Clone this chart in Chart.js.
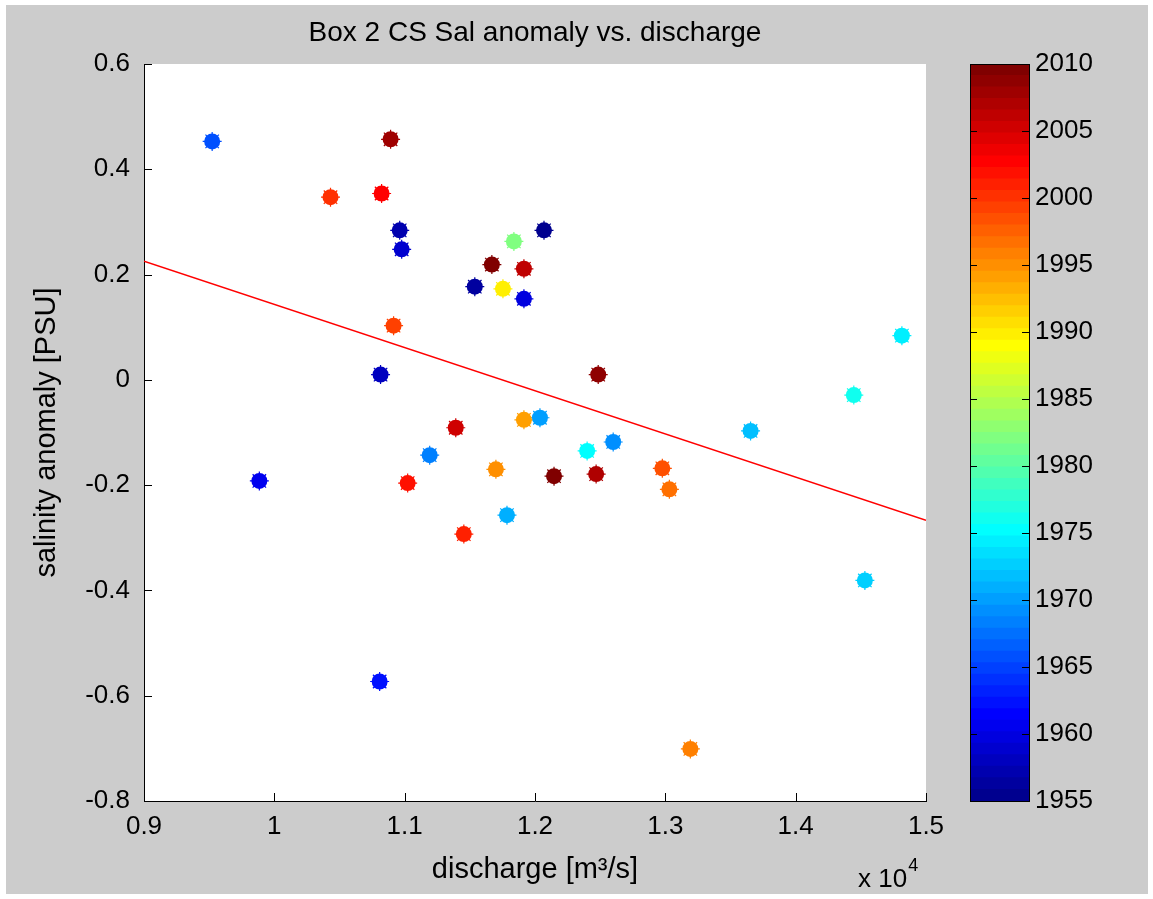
<!DOCTYPE html>
<html>
<head>
<meta charset="utf-8">
<title>Box 2 CS Sal anomaly vs. discharge</title>
<script src="https://cdn.jsdelivr.net/npm/chart.js@4.4.1/dist/chart.umd.min.js"></script>
<style>
  html, body { margin: 0; padding: 0; background: #fff; }
  #fig { position: relative; width: 1153px; height: 899px; overflow: hidden; }
  #frame { position: absolute; left: 6px; top: 5px; right: 5px; bottom: 5px; background: #cccccc; }
  #main { position: absolute; left: 0; top: 0; width: 1153px; height: 899px; }
  #cbar { position: absolute; left: 940px; top: 0; width: 213px; height: 899px; }
</style>
</head>
<body>
<div id="fig">
  <div id="frame"></div>
  <canvas id="main" width="1153" height="899"></canvas>
  <canvas id="cbar" width="213" height="899"></canvas>
</div>
<script>
/* ─── DATA ─── */
// one point per year: river discharge [m3/s] and salinity anomaly [PSU]
const years     = [1955, 1956, 1957, 1958, 1959, 1960, 1961, 1962, 1966, 1968,
                   1969, 1970, 1971, 1972, 1973, 1974, 1975, 1976, 1982, 1990,
                   1994, 1995, 1996, 1997, 1998, 1999, 2000, 2001, 2002, 2003,
                   2005, 2006, 2007, 2008, 2009, 2010, 2010];
const discharge = [12069, 11538, 10962, 10815, 10977, 11915,  9885, 10808,  9523, 11192,
                   12600, 12038, 11785, 13654, 14531, 14815, 12400, 14446, 11838, 11754,
                   11915, 11700, 13192, 13031, 12977, 10915, 10431, 11454, 11023, 10823,
                   11392, 11915, 12469, 10892, 12485, 11669, 12146];
const anomaly   = [ 0.284,  0.177,  0.284,  0.010,  0.248,  0.154, -0.192, -0.573,  0.453, -0.143,
                   -0.118, -0.072, -0.257, -0.097, -0.381,  0.084, -0.135, -0.029,  0.263,  0.173,
                   -0.076, -0.170, -0.701, -0.208, -0.168,  0.103,  0.347, -0.293, -0.196,  0.354,
                   -0.091,  0.211, -0.179,  0.457,  0.010,  0.219, -0.183];

const xTicks = [9000, 10000, 11000, 12000, 13000, 14000, 15000];
const xTickLabels = ['0.9', '1', '1.1', '1.2', '1.3', '1.4', '1.5'];
const yTicks = [-0.8, -0.6, -0.4, -0.2, 0, 0.2, 0.4, 0.6];
const yTickLabels = ['-0.8', '-0.6', '-0.4', '-0.2', '0', '0.2', '0.4', '0.6'];
const cbTicks = [1955, 1960, 1965, 1970, 1975, 1980, 1985, 1990, 1995, 2000, 2005, 2010];
const cbTickLabels = cbTicks.map(String);

const YEAR_MIN = 1955, YEAR_MAX = 2010, NCOLORS = 64;
const FONT = "'Liberation Sans', Arial, Helvetica, sans-serif";

/* ─── JET COLORMAP (64 levels) ─── */
function jetColor(i) {            // i = 1..64
  const u = k => (k < 1 || k > 47) ? 0 : k <= 16 ? k / 16 : k <= 31 ? 1 : (48 - k) / 16;
  const r = i >= 25 ? u(i - 24) : 0;
  const g = (i >= 9 && i <= 55) ? u(i - 8) : 0;
  const b = i <= 39 ? u(i + 8) : 0;
  return `rgb(${Math.round(r * 255)},${Math.round(g * 255)},${Math.round(b * 255)})`;
}
function yearColor(y) {
  const idx = Math.min(NCOLORS, Math.floor((y - YEAR_MIN) / (YEAR_MAX - YEAR_MIN) * NCOLORS) + 1);
  return jetColor(idx);
}

/* ─── LEAST SQUARES FIT ─── */
function linFit(xs, ys) {
  const n = xs.length;
  const mx = xs.reduce((a, b) => a + b, 0) / n;
  const my = ys.reduce((a, b) => a + b, 0) / n;
  let sxy = 0, sxx = 0;
  for (let i = 0; i < n; i++) { sxy += (xs[i] - mx) * (ys[i] - my); sxx += (xs[i] - mx) ** 2; }
  const slope = sxy / sxx;
  return { slope, icpt: my - slope * mx };
}

const pts = discharge.map((x, i) => ({ x, y: anomaly[i] }));
const ptColors = years.map(yearColor);
const fit = linFit(discharge, anomaly);
const xMin = xTicks[0], xMax = xTicks[xTicks.length - 1];
const fitPts = [xMin, xMax].map(x => ({ x, y: fit.icpt + fit.slope * x }));

/* ─── PLUGINS ─── */
const plotBg = {
  id: 'plotBg',
  beforeDraw(chart) {
    const { ctx, chartArea: a } = chart;
    ctx.save();
    ctx.fillStyle = '#fff';
    ctx.fillRect(a.left, a.top, a.right - a.left, a.bottom - a.top);
    ctx.restore();
  }
};

// tick marks pointing into the axes, plus the x10^4 multiplier
const innerTicks = {
  id: 'innerTicks',
  afterDraw(chart) {
    const { ctx, chartArea: a, scales: { x, y } } = chart;
    ctx.save();
    ctx.strokeStyle = '#000';
    ctx.lineWidth = 1;
    ctx.beginPath();
    xTicks.forEach(v => {
      const px = Math.round(x.getPixelForValue(v)) + 0.5;
      ctx.moveTo(px, a.bottom); ctx.lineTo(px, a.bottom - 8);
    });
    yTicks.forEach(v => {
      const py = Math.round(y.getPixelForValue(v)) + 0.5;
      ctx.moveTo(a.left, py); ctx.lineTo(a.left + 8, py);
    });
    ctx.stroke();

    ctx.fillStyle = '#000';
    ctx.textBaseline = 'alphabetic';
    ctx.font = `26px ${FONT}`;
    ctx.fillText('x 10', 858, 887);
    const w = ctx.measureText('x 10').width;
    ctx.font = `18px ${FONT}`;
    ctx.fillText('4', 858 + w + 1, 871);
    ctx.restore();
  }
};

const cbFrame = {
  id: 'cbFrame',
  afterDraw(chart) {
    const { ctx, chartArea: a, scales: { y } } = chart;
    ctx.save();
    ctx.strokeStyle = '#000';
    ctx.lineWidth = 1;
    ctx.beginPath();
    cbTicks.forEach(v => {
      const py = Math.round(y.getPixelForValue(v)) + 0.5;
      ctx.moveTo(a.left, py); ctx.lineTo(a.left + 7, py);
      ctx.moveTo(a.right, py); ctx.lineTo(a.right - 7, py);
    });
    ctx.stroke();
    ctx.strokeRect(Math.round(a.left) + 0.5, Math.round(a.top) + 0.5,
                   Math.round(a.right - a.left), Math.round(a.bottom - a.top));
    ctx.restore();
  }
};

/* ─── MAIN SCATTER ─── */
new Chart(document.getElementById('main'), {
  type: 'scatter',
  data: {
    datasets: [
      { data: pts, pointStyle: 'circle', pointRadius: 8, pointHoverRadius: 8,
        backgroundColor: ptColors, borderWidth: 0 },
      { data: pts, pointStyle: 'star', pointRadius: 9.5, pointHoverRadius: 9.5,
        borderColor: ptColors, backgroundColor: 'transparent', borderWidth: 1.2 },
      { data: fitPts, showLine: true, pointRadius: 0, borderColor: '#ff0000',
        borderWidth: 1.5, fill: false }
    ]
  },
  options: {
    responsive: false, animation: false,
    layout: { padding: { left: 0, right: 1153 - 926, top: 0, bottom: 0 } },
    plugins: {
      legend: { display: false }, tooltip: { enabled: false },
      title: {
        display: true, fullSize: false, text: 'Box 2 CS Sal anomaly vs. discharge',
        color: '#000', font: { family: FONT, size: 28, weight: 'normal', lineHeight: 1.2 },
        padding: { top: 16.2, bottom: 14.2 }
      }
    },
    scales: {
      x: {
        type: 'linear', min: xMin, max: xMax,
        grid: { display: false, drawTicks: false },
        border: { display: true, color: '#000', width: 1 },
        afterBuildTicks: s => { s.ticks = xTicks.map(v => ({ value: v })); },
        afterFit: s => { s.height = 98; },
        ticks: { color: '#000', font: { family: FONT, size: 26 }, padding: 10,
                 maxRotation: 0, autoSkip: false, callback: (v, i) => xTickLabels[i] },
        title: { display: true, text: 'discharge [m³/s]', color: '#000',
                 font: { family: FONT, size: 29 }, padding: { top: 0, bottom: 11.6 } }
      },
      y: {
        type: 'linear', min: yTicks[0], max: yTicks[yTicks.length - 1],
        grid: { display: false, drawTicks: false },
        border: { display: true, color: '#000', width: 1 },
        afterBuildTicks: s => { s.ticks = yTicks.map(v => ({ value: v })); },
        afterFit: s => { s.width = 144; },
        ticks: { color: '#000', font: { family: FONT, size: 26 }, padding: 14,
                 autoSkip: false, callback: (v, i) => yTickLabels[i] },
        title: { display: true, text: 'salinity anomaly [PSU]', color: '#000',
                 font: { family: FONT, size: 29 }, padding: { top: 30, bottom: 0 } }
      }
    }
  },
  plugins: [plotBg, innerTicks]
});

/* ─── COLORBAR ─── */
const bandStep = (YEAR_MAX - YEAR_MIN) / NCOLORS;
const bands = Array.from({ length: NCOLORS }, (_, k) => ({
  lo: YEAR_MIN + k * bandStep, hi: YEAR_MIN + (k + 1) * bandStep, color: jetColor(k + 1)
}));

new Chart(document.getElementById('cbar'), {
  type: 'bar',
  data: {
    labels: [''],
    datasets: bands.map(b => ({
      data: [[b.lo, b.hi]], backgroundColor: b.color,
      borderWidth: 0, inflateAmount: 0.6, barPercentage: 1, categoryPercentage: 1
    }))
  },
  options: {
    responsive: false, animation: false,
    layout: { padding: { left: 30, right: 0, top: 64, bottom: 98 } },
    plugins: { legend: { display: false }, tooltip: { enabled: false } },
    scales: {
      x: { display: false, stacked: true },
      y: {
        position: 'right', min: YEAR_MIN, max: YEAR_MAX,
        grid: { display: false, drawTicks: false },
        border: { display: false },
        afterBuildTicks: s => { s.ticks = cbTicks.map(v => ({ value: v })); },
        afterFit: s => { s.width = 213 - 30 - 59; },
        ticks: { color: '#000', font: { family: FONT, size: 26 }, padding: 6,
                 autoSkip: false, callback: (v, i) => cbTickLabels[i] }
      }
    }
  },
  plugins: [cbFrame]
});
</script>
</body>
</html>
